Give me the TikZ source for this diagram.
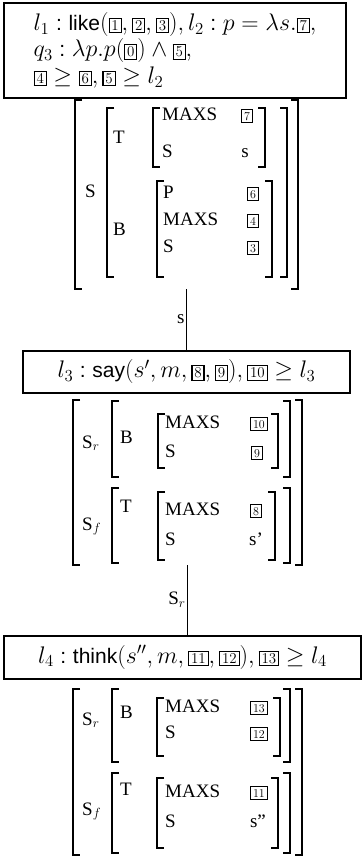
\RequirePackage{fix-cm}
\documentclass[tikz,border=0pt]{standalone}
\usepackage[no-math]{fontspec}
\setmainfont{Liberation Serif}
\newfontfamily\helv{Liberation Sans}
\usepackage{amsmath,amssymb}
\usetikzlibrary{fit}

\newcommand{\tagbox}[2][12]{{\fboxsep=1.8pt\fboxrule=1.1pt\fbox{\fontsize{#1}{#1}\selectfont$#2$}}}
\newcommand{\pred}[1]{\mbox{\fontsize{21}{21}\selectfont\helv #1}}
\newcommand{\lcol}{\mathrel{\pred{:}}}

\tikzset{
  box/.style={draw, line width=1.6pt, inner sep=0pt, font=\fontsize{24}{26.5}\selectfont},
  brk/.style={line width=1.5pt},
  attr/.style={anchor=base west, inner sep=0pt, font=\fontsize{19}{19}\selectfont},
  val/.style={anchor=base, inner sep=0pt, font=\fontsize{19}{19}\selectfont},
  conn/.style={line width=0.8pt},
  clab/.style={left, inner sep=1.5pt, font=\fontsize{19}{19}\selectfont}
}

\begin{document}
\begin{tikzpicture}[x=1pt,y=-1pt]
  \useasboundingbox (0,0) rectangle (362,857);
  % constraint boxes
  \node[box, anchor=north, minimum width=342, minimum height=95, align=left] (boxA) at (175,2)
    {$l_1 \lcol \pred{like}(\tagbox[15]{1}, \tagbox[15]{2}, \tagbox[15]{3}), l_2 \lcol p = \lambda s.\tagbox[15]{7},$\\
     $q_3 \lcol \lambda p.p(\tagbox[15]{0}) \wedge \tagbox[15]{5},$\\
     $\tagbox[15]{4} \geq \tagbox[15]{6}, \tagbox[15]{5} \geq l_2$};
  \node[box, anchor=north, minimum width=327, minimum height=42] (boxB) at (186.5,350)
    {$l_3 \lcol \pred{say}(s', m, \tagbox[15]{8}, \tagbox[15]{9}), \tagbox[15]{10} \geq l_3$};
  \node[box, anchor=north, minimum width=357, minimum height=43] (boxC) at (182.5,635)
    {$l_4 \lcol \pred{think}(s'', m, \tagbox[15]{11}, \tagbox[15]{12}), \tagbox[15]{13} \geq l_4$};
  % brackets of the three feature structures
  \foreach \l/\r/\t/\b in {75/298/100/289, 107/287/108/277, 153/265/108/167, 157/272/181/277,
      73/302/400/565, 112/290/401/477, 158/278/414/468, 112/290/488/563, 158/275/492/560,
      73/302/689/855, 112/290/689/762, 157/280/698/756, 112/290/773/853, 157/278/778/848}{
    \draw[brk] (\l+7,\t) -- (\l,\t) -- (\l,\b) -- (\l+7,\b);
    \draw[brk] (\r-7,\t) -- (\r,\t) -- (\r,\b) -- (\r-7,\b);
  }
  % attributes
  \foreach \x/\y/\t [count=\i] in {85/197/S, 113/143/T, 113/235/B, 162/120/MAXS, 162/157/S,
      163/198/P, 163/225/MAXS, 163/252/S,
      82/448/S$_r$, 120/443/B, 165/428/MAXS, 165/457/S, 82/530/S$_f$, 120/512/T, 165/515/MAXS, 165/545/S,
      82/725/S$_r$, 120/718/B, 165/712/MAXS, 165/738/S, 82/815/S$_f$, 120/795/T, 165/797/MAXS, 165/827/S}
    \node[attr] (attr\i) at (\x,\y) {\t};
  % values
  \foreach \x/\y/\t [count=\i] in {247/120/\tagbox{7}, 245/157/s, 253/198/\tagbox{6}, 253/225/\tagbox{4},
      253/252/\tagbox{3}, 259/428/\tagbox{10}, 257/457/\tagbox{9}, 256/515/\tagbox{8}, 256/545/s',
      259/712/\tagbox{13}, 259/738/\tagbox{12}, 259/797/\tagbox{11}, 258/827/s''}
    \node[val] (val\i) at (\x,\y) {\t};
  % links
  \node[fit={(75,100) (298,289)}, inner sep=0pt] (avmA) {};
  \node[fit={(73,400) (302,565)}, inner sep=0pt] (avmB) {};
  \draw[conn] (avmA.south) -- node[clab] (lnkA) {s} (avmA.south |- boxB.north);
  \draw[conn] (avmB.south) -- node[clab] (lnkB) {S$_r$} (avmB.south |- boxC.north);
\end{tikzpicture}
\end{document}
